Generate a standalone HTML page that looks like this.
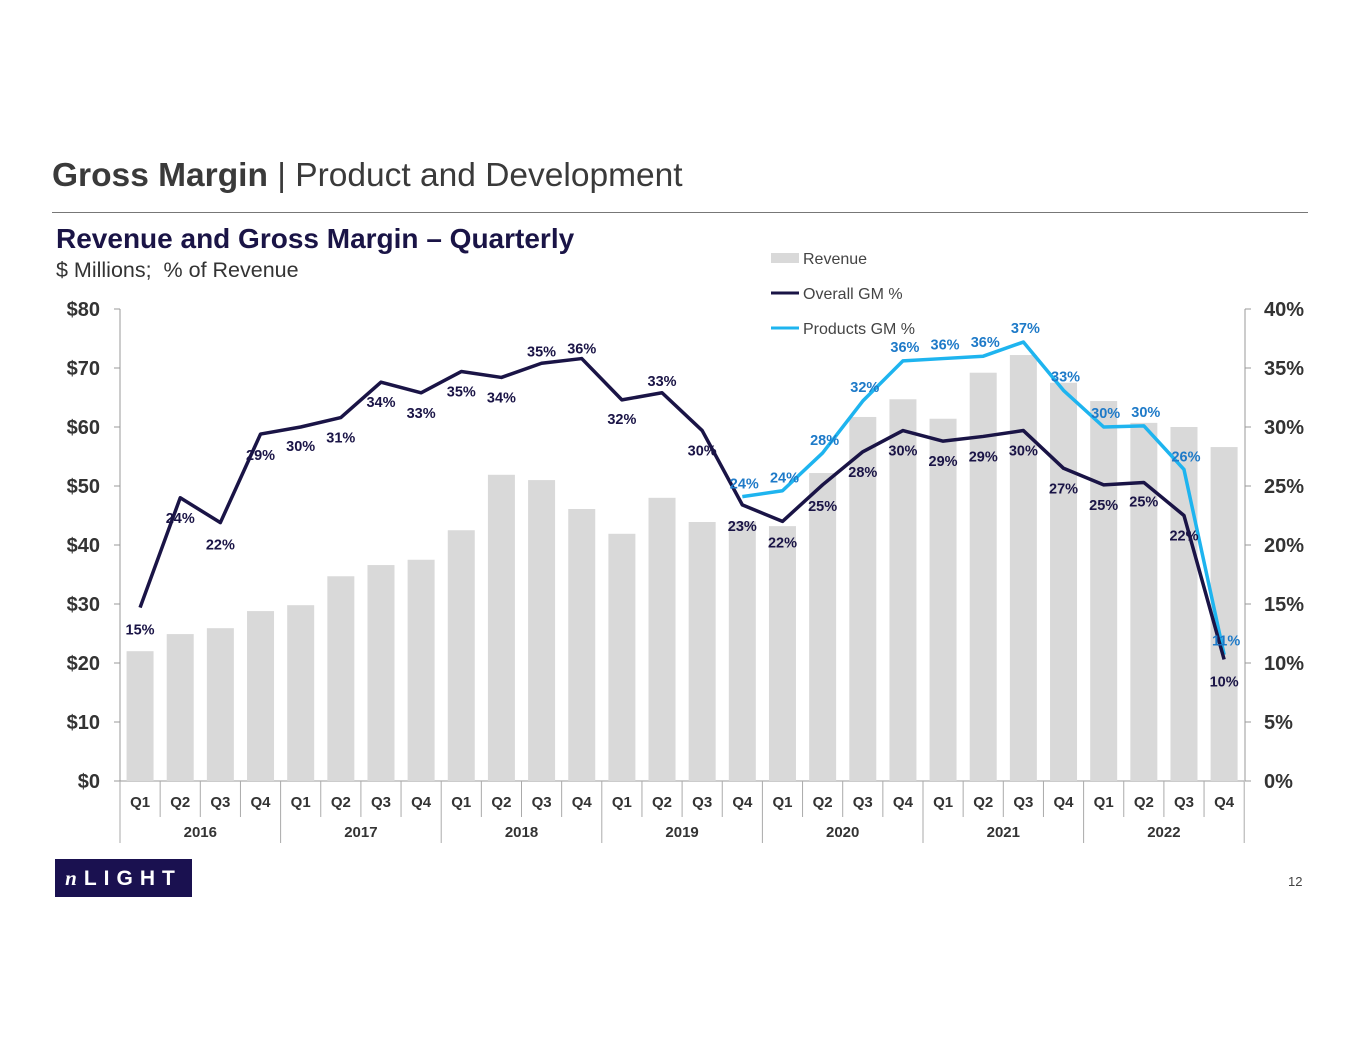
<!DOCTYPE html>
<html><head><meta charset="utf-8"><style>
body{margin:0;background:#fff;font-family:"Liberation Sans",Arial,sans-serif}
#wrap{position:relative;width:1365px;height:1055px;overflow:hidden}
</style></head><body>
<div id="wrap">
<div style="position:absolute;left:52px;top:157px;font-size:33.5px;color:#3a3a3a"><b>Gross Margin</b> | Product and Development</div>
<div style="position:absolute;left:52px;top:212px;width:1256px;height:1px;background:#777"></div>
<div style="position:absolute;left:56px;top:223px;font-size:28px;font-weight:bold;color:#1a1446">Revenue and Gross Margin – Quarterly</div>
<div style="position:absolute;left:56px;top:258px;font-size:21.5px;color:#333">$ Millions;&nbsp; % of Revenue</div>
<div style="position:absolute;left:55px;top:859px;width:137px;height:38px;background:#1a1150;color:#fff;font-weight:bold;font-size:21px;letter-spacing:7px;line-height:38px;text-align:center"><i style="font-family:'Liberation Serif',serif">n</i>LIGHT</div>
<div style="position:absolute;left:1288px;top:874px;font-size:13px;color:#444">12</div>
<svg id="chart" width="1365" height="1055" style="position:absolute;left:0;top:0"></svg>
</div>
<script>
const quarters=["Q1","Q2","Q3","Q4","Q1","Q2","Q3","Q4","Q1","Q2","Q3","Q4","Q1","Q2","Q3","Q4","Q1","Q2","Q3","Q4","Q1","Q2","Q3","Q4","Q1","Q2","Q3","Q4"];
const years=["2016","2017","2018","2019","2020","2021","2022"];
const revenue=[22.0,24.9,25.9,28.8,29.8,34.7,36.6,37.5,42.5,51.9,51.0,46.1,41.9,48.0,43.9,44.0,43.2,52.2,61.7,64.7,61.4,69.2,72.2,67.5,64.4,60.7,60.0,56.6];
const overallGM=[14.7,24.0,21.9,29.4,30.0,30.8,33.8,32.9,34.7,34.2,35.4,35.8,32.3,32.9,29.7,23.4,22.0,25.1,27.9,29.7,28.8,29.2,29.7,26.5,25.1,25.3,22.5,10.3];
const overallLabels=["15%","24%","22%","29%","30%","31%","34%","33%","35%","34%","35%","36%","32%","33%","30%","23%","22%","25%","28%","30%","29%","29%","30%","27%","25%","25%","22%","10%"];
const productsGM=[null,null,null,null,null,null,null,null,null,null,null,null,null,null,null,24.1,24.6,27.8,32.2,35.6,35.8,36.0,37.2,33.1,30.0,30.1,26.4,10.7];
const productsLabels=["","","","","","","","","","","","","","","","24%","24%","28%","32%","36%","36%","36%","37%","33%","30%","30%","26%","11%"];
const leftTicks=["$0","$10","$20","$30","$40","$50","$60","$70","$80"];
const rightTicks=["0%","5%","10%","15%","20%","25%","30%","35%","40%"];
const overallDy=[22,20,22,21,19,20,20,20,20,20,-12,-10,19,-12,20,21,21,21,20,20,20,20,20,20,20,19,20,22];
const productsDy=[0,0,0,0,0,0,0,0,0,0,0,0,0,0,0,-13,-13,-13,-14,-14,-14,-14,-14,-14,-14,-14,-13,-14];

const svg=document.getElementById('chart');const NS='http://www.w3.org/2000/svg';
const x0=120,slot=40.15,yB=781,yT=309;
const xC=i=>x0+slot*(i+0.5);
const yL=v=>yB-(v/80)*(yB-yT);
const yR=v=>yB-(v/40)*(yB-yT);
function mk(t,a,txt){const e=document.createElementNS(NS,t);for(const k in a)e.setAttribute(k,a[k]);if(txt!==undefined)e.textContent=txt;svg.appendChild(e);return e;}
let ax=mk('line',{x1:x0,y1:yB,x2:x0+slot*28,y2:yB,stroke:'#999'});


let la=mk('line',{x1:x0,y1:yT,x2:x0,y2:yB,stroke:'#999'});


let ra=mk('line',{x1:1245,y1:yT,x2:1245,y2:yB,stroke:'#999'});


leftTicks.forEach((t,i)=>{const y=yL(i*10);
 mk('line',{x1:x0-6,y1:y,x2:x0,y2:y,stroke:'#999'});
 const e=mk('text',{x:100,y:y+7,'text-anchor':'end','font-size':20,'font-weight':'bold',fill:'#333'},t);
 
 });
rightTicks.forEach((t,i)=>{const y=yR(i*5);
 mk('line',{x1:1245,y1:y,x2:1251,y2:y,stroke:'#999'});
 const e=mk('text',{x:1264,y:y+7,'font-size':20,'font-weight':'bold',fill:'#333'},t);
 
 });
revenue.forEach((v,i)=>{const r=mk('rect',{x:xC(i)-13.5,y:yL(v),width:27,height:yB-yL(v),fill:'#d9d9d9'});
 
 });
quarters.forEach((q,i)=>{const e=mk('text',{x:xC(i),y:807,'text-anchor':'middle','font-size':15,'font-weight':'bold',fill:'#333'},q);
 
 
 mk('line',{x1:x0+slot*(i+1),y1:yB,x2:x0+slot*(i+1),y2:yB+(i%4==3?62:36),stroke:'#aaa'});});
mk('line',{x1:x0,y1:yB,x2:x0,y2:yB+62,stroke:'#aaa'});
years.forEach((y,i)=>{const e=mk('text',{x:x0+slot*(i*4+2),y:837,'text-anchor':'middle','font-size':15,'font-weight':'bold',fill:'#333'},y);
 
 });
function path(arr,fy){let d='';arr.forEach((v,i)=>{if(v==null)return;d+=(d?'L':'M')+xC(i)+','+fy(v);});return d;}
const pl=mk('path',{d:path(productsGM,yR),fill:'none',stroke:'#1eb4ef','stroke-width':3.5,'stroke-linejoin':'round'});


const ol=mk('path',{d:path(overallGM,yR),fill:'none',stroke:'#1a1446','stroke-width':3.5,'stroke-linejoin':'round'});


overallGM.forEach((v,i)=>{const e=mk('text',{x:xC(i),y:yR(v)+overallDy[i]+5,'text-anchor':'middle','font-size':14.5,'font-weight':'bold',fill:'#1a1446'},overallLabels[i]);
 
 });
productsGM.forEach((v,i)=>{if(v==null)return;const e=mk('text',{x:xC(i)+2,y:yR(v)+productsDy[i]+5,'text-anchor':'middle','font-size':14.5,'font-weight':'bold',fill:'#1e7ac8'},productsLabels[i]);
 
 });
const lg=[['Revenue','rect'],['Overall GM %','#1a1446'],['Products GM %','#1eb4ef']];
lg.forEach((l,i)=>{const y=258+i*35;
 if(l[1]=='rect')mk('rect',{x:771,y:y-5,width:28,height:10,fill:'#d9d9d9'});
 else mk('line',{x1:771,y1:y,x2:799,y2:y,stroke:l[1],'stroke-width':3});
 const e=mk('text',{x:803,y:y+6,'font-size':16,fill:'#444'},l[0]);
 
 });
</script>
</body></html>
